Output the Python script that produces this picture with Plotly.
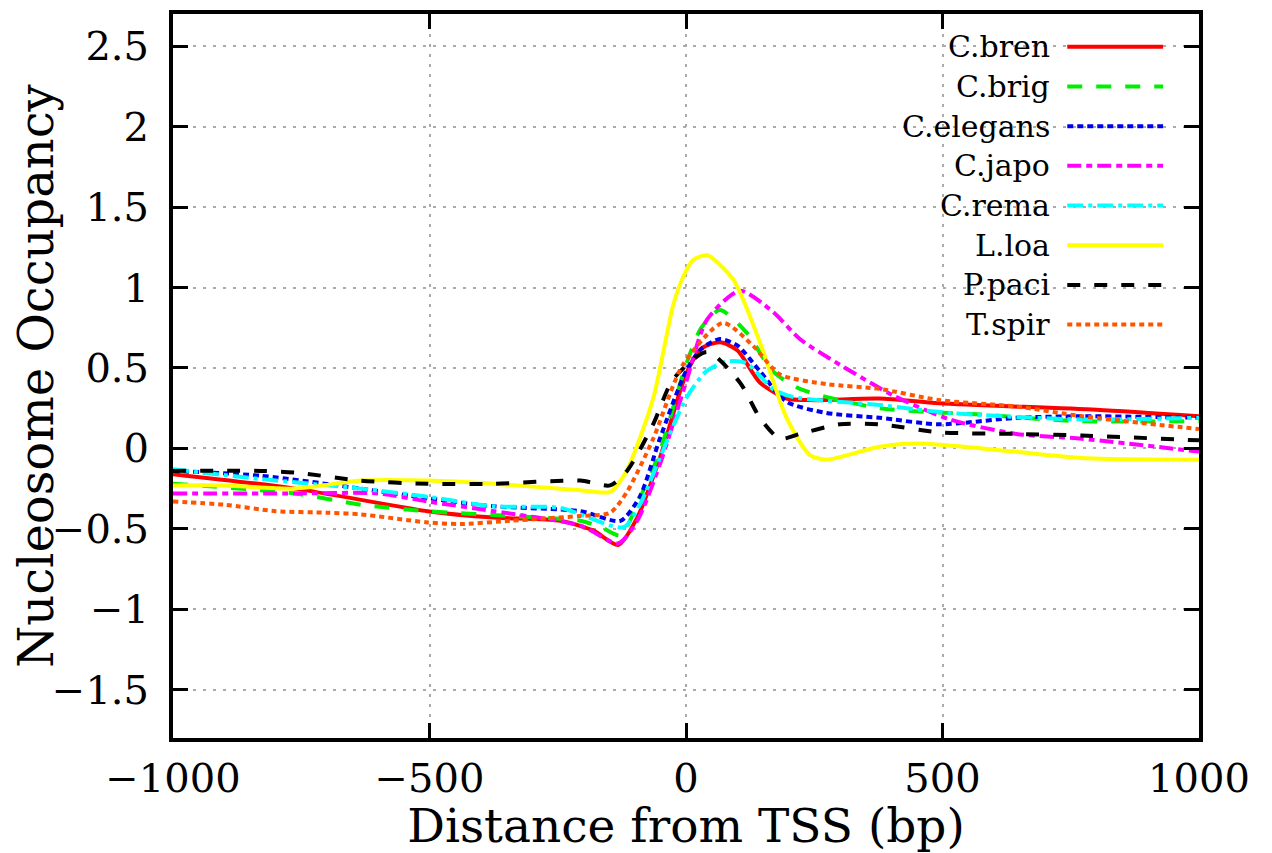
import plotly.graph_objects as go

names = ["C.bren", "C.brig", "C.elegans", "C.japo", "C.rema", "L.loa", "P.paci", "T.spir"]
colors = ["#ff0000", "#00ee00", "#0000ee", "#ff00ff", "#00ffff", "#ffff00", "#000000", "#ff5500"]
dashes = ["solid", "15px,14px", "6px,4px", "14px,5px,6px,5px", "16px,5px,4px,5px", "solid", "13px,14px", "5px,4px"]

bren_x = [-1000, -762, -504, -375, -245, -181, -132, -95, -51, 0, 30, 66, 100, 144, 196, 250, 377, 494, 800, 1000]
bren_y = [-0.16, -0.25, -0.39, -0.43, -0.45, -0.51, -0.60, -0.43, -0.06, 0.46, 0.62, 0.66, 0.61, 0.41, 0.31, 0.30, 0.31, 0.28, 0.24, 0.20]

brig_x = [-1000, -762, -634, -504, -342, -206, -165, -128, -90, -51, 0, 30, 66, 118, 169, 222, 377, 578, 760, 1000]
brig_y = [-0.22, -0.28, -0.35, -0.39, -0.42, -0.45, -0.49, -0.54, -0.31, -0.02, 0.52, 0.75, 0.86, 0.72, 0.48, 0.37, 0.25, 0.21, 0.17, 0.17]

eleg_x = [-1000, -829, -634, -504, -375, -206, -128, -90, -51, 0, 30, 66, 100, 144, 196, 274, 377, 494, 644, 772, 1000]
eleg_y = [-0.14, -0.17, -0.25, -0.31, -0.36, -0.39, -0.45, -0.30, 0.06, 0.48, 0.62, 0.68, 0.64, 0.48, 0.29, 0.22, 0.19, 0.15, 0.19, 0.20, 0.19]

japo_x = [-1000, -762, -600, -504, -375, -206, -132, -95, -51, 0, 41, 105, 169, 222, 300, 364, 403, 514, 644, 772, 1000]
japo_y = [-0.28, -0.28, -0.28, -0.33, -0.39, -0.48, -0.59, -0.45, -0.10, 0.41, 0.80, 0.98, 0.85, 0.68, 0.52, 0.40, 0.33, 0.18, 0.09, 0.06, -0.02]

rema_x = [-1000, -829, -634, -504, -375, -245, -122, -90, -51, 0, 40, 80, 118, 169, 208, 377, 514, 772, 1000]
rema_y = [-0.13, -0.19, -0.25, -0.30, -0.36, -0.37, -0.49, -0.35, -0.06, 0.31, 0.48, 0.54, 0.53, 0.37, 0.32, 0.27, 0.22, 0.18, 0.19]

loa_x = [-1000, -900, -762, -634, -504, -375, -206, -148, -116, -64, -25, -5, 14, 41, 92, 144, 196, 241, 274, 377, 450, 578, 772, 1000]
loa_y = [-0.23, -0.23, -0.25, -0.20, -0.20, -0.22, -0.26, -0.27, -0.14, 0.31, 0.89, 1.07, 1.17, 1.20, 1.05, 0.66, 0.19, -0.04, -0.07, 0.01, 0.03, 0.00, -0.06, -0.07]

paci_x = [-1000, -829, -762, -634, -504, -375, -206, -148, -115, -64, -25, 41, 105, 144, 183, 222, 300, 377, 494, 644, 772, 1000]
paci_y = [-0.14, -0.14, -0.15, -0.20, -0.22, -0.22, -0.20, -0.23, -0.14, 0.15, 0.43, 0.60, 0.41, 0.19, 0.06, 0.09, 0.15, 0.15, 0.10, 0.09, 0.08, 0.05]

spir_x = [-1000, -900, -800, -697, -634, -504, -440, -342, -206, -148, -115, -64, -6, 72, 130, 183, 274, 377, 494, 644, 772, 1000]
spir_y = [-0.33, -0.35, -0.39, -0.40, -0.41, -0.46, -0.47, -0.45, -0.42, -0.40, -0.27, 0.06, 0.52, 0.78, 0.64, 0.46, 0.40, 0.37, 0.30, 0.26, 0.20, 0.12]

xs = [bren_x, brig_x, eleg_x, japo_x, rema_x, loa_x, paci_x, spir_x]
ys = [bren_y, brig_y, eleg_y, japo_y, rema_y, loa_y, paci_y, spir_y]

x_ticks = [-1000, -500, 0, 500, 1000]
x_tick_labels = ["\u22121000", "\u2212500", "0", "500", "1000"]
y_ticks = [-1.5, -1, -0.5, 0, 0.5, 1, 1.5, 2, 2.5]
y_tick_labels = ["\u22121.5", "\u22121", "\u22120.5", "0", "0.5", "1", "1.5", "2", "2.5"]

FONT = "DejaVu Serif"

fig = go.Figure()
for n, c, d, x, y in zip(names, colors, dashes, xs, ys):
    fig.add_trace(go.Scatter(x=x, y=y, mode="lines", name=n,
                             line=dict(color=c, dash=d, width=4, shape="spline", smoothing=0.7),
                             showlegend=False))

# page body has an 8px margin; target plot area in window pixels
OFF = 8
FW, FH = 1272 - OFF, 853 - OFF
L, R, T, B = 171, 1199, 10, 738
W, H = R - L, B - T

def px(xp):
    return (xp - L) / W

def py(yp):
    return (B - yp) / H

# Opaque legend box
fig.add_shape(type="rect", xref="paper", yref="paper",
              x0=px(880), x1=px(1178), y0=py(340), y1=py(27),
              fillcolor="white", line=dict(width=0), layer="between")

for i, (n, c, d) in enumerate(zip(names, colors, dashes)):
    yy = py(43 + i * 39.9)
    fig.add_annotation(xref="paper", yref="paper", x=px(1052), y=yy, text=n,
                       showarrow=False, xanchor="right", yanchor="middle",
                       font=dict(family=FONT, size=30, color="black"))
    fig.add_shape(type="line", xref="paper", yref="paper",
                  x0=px(1067), x1=px(1163), y0=yy, y1=yy,
                  line=dict(color=c, dash=d, width=4))

axis_common = dict(showline=True, linecolor="black", linewidth=4, mirror="allticks",
                   ticks="inside", ticklen=15, tickwidth=3, tickcolor="black",
                   showgrid=True, gridcolor="#aaaaaa", griddash="3px,7px", gridwidth=2,
                   zeroline=False, tickfont=dict(family=FONT, size=40, color="black"))

fig.update_xaxes(range=[-1000, 1000], tickvals=x_ticks, ticktext=x_tick_labels,
                 ticklabelstandoff=2,
                 title=dict(text="Distance from TSS (bp)", font=dict(family=FONT, size=47, color="black"), standoff=0),
                 **axis_common)
fig.update_yaxes(range=[-1.8, 2.7], tickvals=y_ticks, ticktext=y_tick_labels,
                 ticklabelstandoff=12,
                 title=dict(text="Nucleosome Occupancy", font=dict(family=FONT, size=48, color="black"), standoff=8),
                 **axis_common)

fig.update_layout(width=FW, height=FH,
                  margin=dict(l=L - OFF, r=1272 - R, t=T - OFF, b=853 - B),
                  plot_bgcolor="white", paper_bgcolor="white", showlegend=False)

fig.write_html("out.html")
